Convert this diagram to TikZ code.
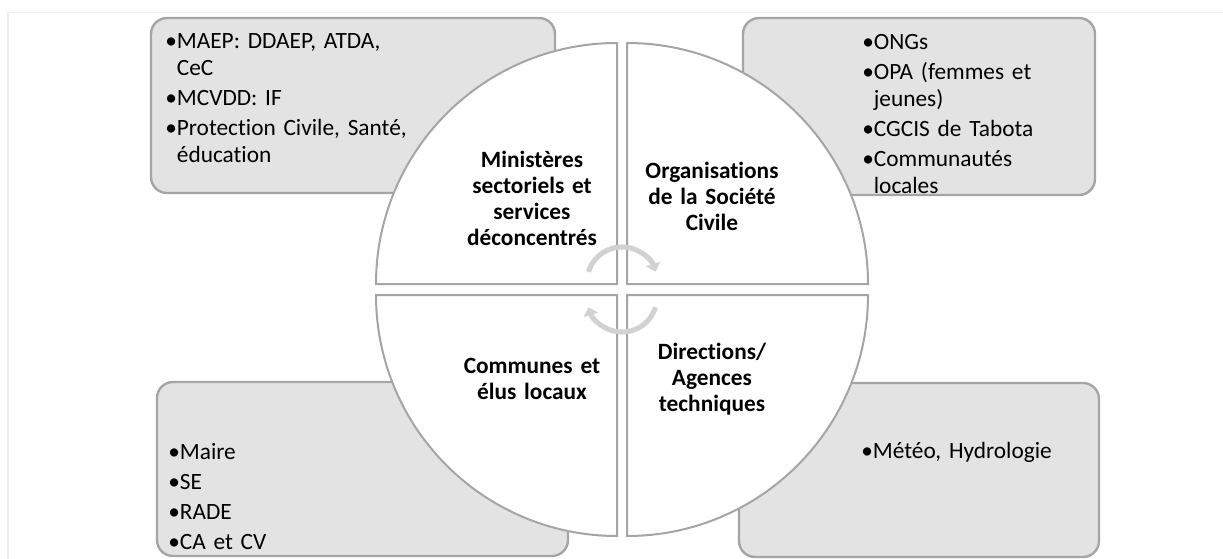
\documentclass[tikz,border=0pt]{standalone}
\usepackage{fontspec}
\setmainfont{Carlito}[Ligatures=NoCommon]
\usetikzlibrary{fit,arrows.meta}
\frenchspacing

\definecolor{couleurboite}{HTML}{E3E3E3}
\definecolor{couleurbord}{HTML}{A5A5A5}
\definecolor{couleurquart}{HTML}{FFFFFF}
\definecolor{couleurfleche}{HTML}{D2D2D2}
\definecolor{couleurcadre}{HTML}{EDEDED}
\definecolor{couleurtext}{HTML}{000000}
\newcommand{\puce}{\textbullet}
\newcommand{\suite}{\phantom{\textbullet}}
\newcommand{\quartcerc}[3]{\draw[quart] (#1) -- ++(#2:241) arc[start angle=#2, end angle=#3, radius=241] -- cycle;}
\tikzset{
		boite/.style={draw=couleurbord, fill=couleurboite, line width=1.8pt, rounded corners=12pt, inner sep=0pt},
		quart/.style={draw=couleurbord, fill=couleurquart, line width=1.5pt},
		titre/.style={font=\bfseries\fontsize{17.5}{19.5}\selectfont, text=couleurtext, text width=150pt, align=center, anchor=base, inner sep=0pt},
		liste/.style={text=couleurtext, text width=280pt, align=left, anchor=base west, inner sep=0pt},
		fleche/.style={draw=couleurfleche, line width=3.8pt, -{Triangle[length=6pt, width=11pt]}}
	}

\begin{document}
\begin{tikzpicture}[x=0.75pt, y=0.75pt]
		\fontsize{17.5}{20} \selectfont
		\useasboundingbox (0,0) rectangle (1223,558);
		% cadre
		\draw[couleurcadre, line width=0.8pt] (8,-20) rectangle (1250,545.5);
		
		% boites
		\node[boite, fit={(151,365) (555,540)}] (boitmini) {};
		\node[boite, fit={(743,363) (1095,540)}] (boitorga) {};
		\node[boite, fit={(157,2) (568,176)}] (boitcomm) {};
		\node[boite, fit={(739,1) (1099,175)}] (boitdire) {};
		
		% listes
		\node[liste] (listmini) at (165,509) {\puce MAEP: DDAEP, ATDA,\\\suite CeC\\[2.5pt]\puce MCVDD: IF\\[2.5pt]\puce Protection Civile, Santé,\\\suite éducation};
		\node[liste] (listorga) at (862,508) {\puce ONGs\\[2.5pt]\puce OPA (femmes et\\\suite jeunes)\\[2.5pt]\puce CGCIS de Tabota\\[2.5pt]\puce Communautés\\\suite locales};
		\node[liste] (listcomm) at (168,99) {\puce Maire\\[2.5pt]\puce SE\\[2.5pt]\puce RADE\\[2.5pt]\puce CA et CV};
		\node[liste] (listdire) at (861,100) {\puce Météo, Hydrologie};
		
		% quadrants
		\coordinate (centmini) at (617,274);
		\coordinate (centorga) at (627,274);
		\coordinate (centcomm) at (617,263);
		\coordinate (centdire) at (627,263);
		\quartcerc{centmini}{180}{90}
		\quartcerc{centorga}{90}{0}
		\quartcerc{centcomm}{270}{180}
		\quartcerc{centdire}{0}{-90}
		
		% titres
		\node[titre] (minisect) at (532,391) {Ministères\\sectoriels et\\services\\déconcentrés};
		\node[titre] (orgasoci) at (712,380) {Organisations\\de la Société\\Civile};
		\node[titre] (communes) at (532,185) {Communes et\\élus locaux};
		\node[titre] (direagen) at (712,199) {Directions/\\Agences\\techniques};
		
		% cycle
		\coordinate (cyclhaut) at (622,276);
		\coordinate (cyclbas) at (622,261);
		\draw[fleche] (cyclhaut) ++(163:35) arc[start angle=163, end angle=17, radius=35];
		\draw[fleche] (cyclbas) ++(-17:35) arc[start angle=-17, end angle=-163, radius=35];
	\end{tikzpicture}
\end{document}
